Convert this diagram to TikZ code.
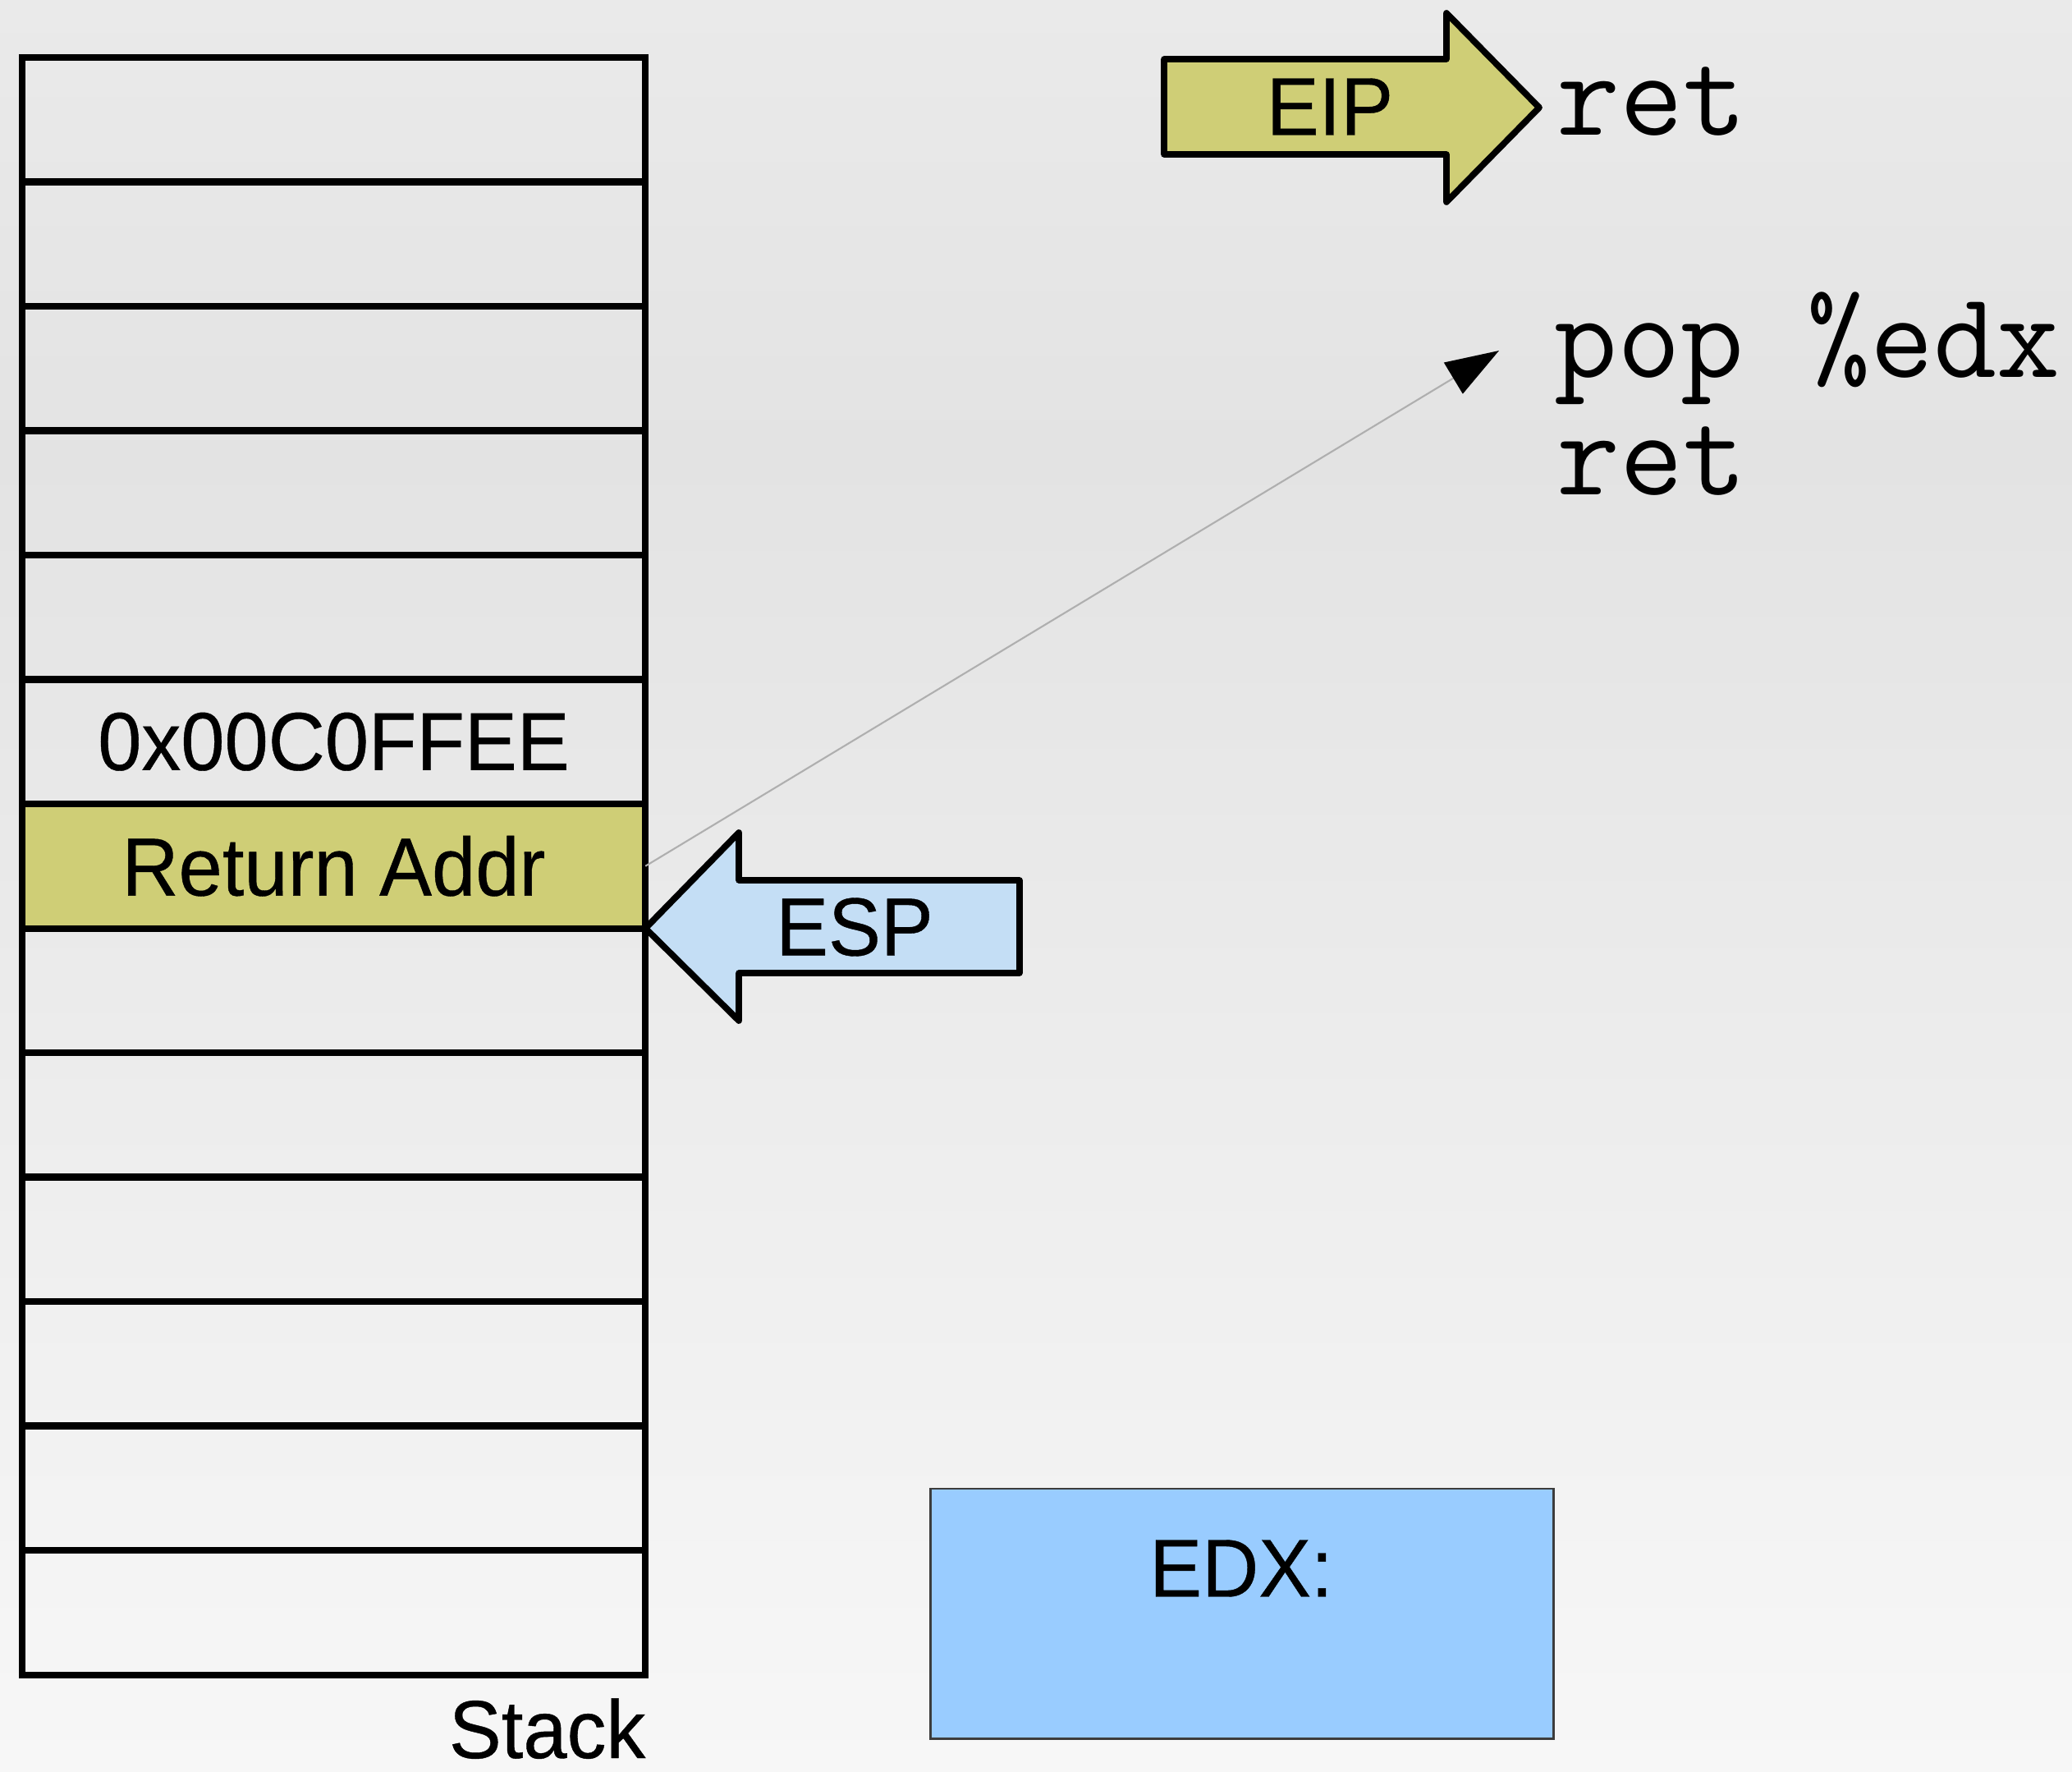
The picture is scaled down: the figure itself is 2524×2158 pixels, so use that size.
\documentclass[tikz,border=0pt]{standalone}
\usepackage{graphicx}
\usepackage{fontspec}
\newfontfamily\arialf[FakeStretch=0.955,FakeBold=0.4]{Liberation Sans}
\usetikzlibrary{arrows.meta}
\newcommand\sansbig{\arialf\fontsize{28.5pt}{34pt}\selectfont}
\newcommand\monobig{\ttfamily\fontsize{42.5pt}{51pt}\selectfont}
\definecolor{olivefill}{RGB}{207,206,118}
\definecolor{espblue}{RGB}{196,222,245}
\definecolor{edxblue}{RGB}{153,204,255}
\definecolor{edxborder}{RGB}{60,60,60}
\definecolor{bgtop}{RGB}{234,234,234}
\definecolor{bgmid}{RGB}{227,227,227}
\definecolor{bgbot}{RGB}{247,247,247}
\definecolor{linkgray}{RGB}{175,175,175}
\begin{document}
\begin{tikzpicture}[x=0.01cm,y=-0.01cm,
  cell/.style={draw=black, line width=2.3pt, rectangle, minimum width=7.59cm,
    minimum height=1.515cm, inner sep=0pt, outer sep=0pt, font=\sansbig},
  regarrow/.style={draw=black, line width=2.2pt, line join=round},
  txt/.style={font=\sansbig, inner sep=0pt},
  code/.style={font=\monobig, inner sep=0pt, anchor=base west},
  link/.style={draw=linkgray, line width=0.6pt,
    -{Triangle[length=6.5mm, width=4.4mm, color=black]}}]
\useasboundingbox (0,0) rectangle (2524,2158);
% background
\shade[top color=bgtop, bottom color=bgmid] (0,0) rectangle (2524,550);
\shade[top color=bgmid, bottom color=bgbot] (0,550) rectangle (2524,2158);
% stack cells
\foreach \i in {0,1,2,3,4,7,8,9,10,11,12}
  \node[cell] (r\i) at (406.5, {70+151.5*(\i+0.5)}) {};
\node[cell] (r5) at (406.5, {70+151.5*5.5}) {0x00C0FFEE};
\node[cell, fill=olivefill] (r6) at (406.5, {70+151.5*6.5}) {Return Addr};
\node[txt, anchor=base east] (stacklbl) at (787,2141) {Stack};
% EIP arrow
\draw[regarrow, fill=olivefill] (1418,72) -- (1762,72) -- (1762,16) -- (1875,131)
  -- (1762,246) -- (1762,188) -- (1418,188) -- cycle;
\node[txt] (eip) at (1620,130) {EIP};
% ESP arrow
\draw[regarrow, fill=espblue] (r6.south east) -- (900,1014) -- (900,1072) -- (1242,1072)
  -- (1242,1185) -- (900,1185) -- (900,1243) -- cycle;
\node[txt] (esp) at (1041,1129) {ESP};
% code
\node[code] (ret1) at (1896,165) {ret};
\node[code] (pop) at (1893,460) {pop \%edx};
\node[code] (ret2) at (1896,603) {ret};
% link
\coordinate (popin) at (1826,427);
\draw[link] (r6.east) -- (popin);
% EDX register
\node[draw=edxborder, line width=0.8pt, fill=edxblue, minimum width=7.58cm,
  minimum height=3.04cm, inner sep=0pt] (edx) at (1513,1965) {};
\node[txt] (edxlbl) at (1512,1910) {EDX:};
\end{tikzpicture}
\end{document}
